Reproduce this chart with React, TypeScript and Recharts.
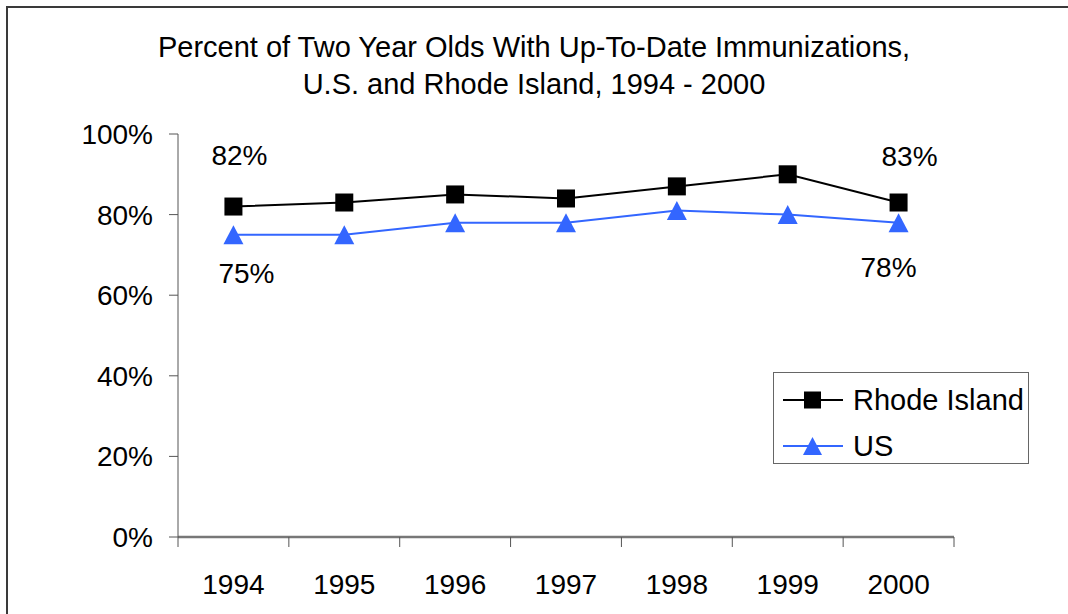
import React from "react";
import { Legend, Line, LineChart, XAxis, YAxis } from "recharts";

const years = [1994, 1995, 1996, 1997, 1998, 1999, 2000];
const rhodeIsland = [82, 83, 85, 84, 87, 90, 83];
const us = [75, 75, 78, 78, 81, 80, 78];
const yTicks = [0, 20, 40, 60, 80, 100];
const boundaryTicks = [1993.5, 1994.5, 1995.5, 1996.5, 1997.5, 1998.5, 1999.5, 2000.5];

const FONT = '"Liberation Sans", Arial, sans-serif';
const RI_COLOR = "#000000";
const US_COLOR = "#3366FF";

const data = years.map((year, i) => ({
    year,
    ri: rhodeIsland[i],
    us: us[i],
}));

const SquareDot = (props: any) => {
    const { cx, cy } = props;
    if (cx == null || cy == null) return null;
    const s = 18;
    return <rect x={cx - s / 2} y={cy - s / 2} width={s} height={s} fill={RI_COLOR} />;
};

const TriangleDot = (props: any) => {
    const { cx, cy } = props;
    if (cx == null || cy == null) return null;
    const w = 20;
    const h = 19;
    return (
        <path
            d={`M${cx},${cy - h / 2} L${cx + w / 2},${cy + h / 2} L${cx - w / 2},${cy + h / 2} Z`}
            fill={US_COLOR}
        />
    );
};

// only the first and last points carry a data label, as in the original
const makeLabel = (offsets: { first: [number, number]; last: [number, number] }) =>
    (props: any) => {
        const { x, y, value, index } = props;
        let off: [number, number] | null = null;
        if (index === 0) off = offsets.first;
        if (index === years.length - 1) off = offsets.last;
        if (!off) return null;
        return (
            <text
                key={`lbl-${index}`}
                x={x + off[0]}
                y={y + off[1]}
                textAnchor="middle"
                dominantBaseline="central"
                fontSize={28}
                fontFamily={FONT}
                fill="#000"
            >
                {`${value}%`}
            </text>
        );
    };

const riLabel = makeLabel({ first: [6, -51], last: [11, -46] });
const usLabel = makeLabel({ first: [13, 39], last: [-10, 45] });

// boundary tick marks between the categories (Excel style)
const BoundaryTick = (props: any) => {
    const { x, y } = props;
    return <line x1={x} x2={x} y1={y} y2={y + 10} stroke="#555" strokeWidth={1} />;
};

const renderLegend = () => (
    <div
        style={{
            border: "1.5px solid #666",
            background: "#fff",
            width: 256,
            height: 92,
            boxSizing: "border-box",
            fontFamily: FONT,
            fontSize: 29,
            paddingTop: 8,
        }}
    >
        {[
            { name: "Rhode Island", color: RI_COLOR, shape: "square" },
            { name: "US", color: US_COLOR, shape: "triangle" },
        ].map((item) => (
            <div
                key={item.name}
                style={{ display: "flex", alignItems: "center", height: 38, marginBottom: 8 }}
            >
                <svg width={78} height={24} style={{ marginLeft: 9, marginRight: 2 }}>
                    <line x1={0} y1={12} x2={60} y2={12} stroke={item.color} strokeWidth={2} />
                    {item.shape === "square" ? (
                        <rect x={21} y={3.5} width={17} height={17} fill={item.color} />
                    ) : (
                        <path d="M29.5,3 L39,21 L20,21 Z" fill={item.color} />
                    )}
                </svg>
                <span style={{ marginLeft: -10 }}>{item.name}</span>
            </div>
        ))}
    </div>
);

export default function App() {
    return (
        <div
            style={{
                position: "absolute",
                left: 0,
                top: 0,
                width: 1068,
                height: 614,
                background: "#fff",
                fontFamily: FONT,
                overflow: "hidden",
            }}
        >
            <div
                style={{
                    position: "absolute",
                    left: 6,
                    top: 6,
                    width: 1100,
                    height: 700,
                    borderLeft: "2px solid #3a3a3a",
                    borderTop: "2px solid #3a3a3a",
                }}
            />
            <div
                style={{
                    position: "absolute",
                    left: 0,
                    width: 1068,
                    top: 29,
                    textAlign: "center",
                    fontSize: 29,
                    lineHeight: "37px",
                    color: "#000",
                }}
            >
                Percent of Two Year Olds With Up-To-Date Immunizations,
                <br />
                U.S. and Rhode Island, 1994 - 2000
            </div>
            <div style={{ position: "absolute", left: 0, top: 0 }}>
                <LineChart
                    width={1068}
                    height={614}
                    data={data}
                    margin={{ top: 134, right: 114, bottom: 17, left: 78 }}
                >
                    <XAxis
                        xAxisId="bounds"
                        dataKey="year"
                        type="number"
                        domain={[1993.5, 2000.5]}
                        ticks={boundaryTicks}
                        allowDataOverflow
                        height={1}
                        tick={<BoundaryTick />}
                        tickSize={0}
                        tickMargin={0}
                        tickLine={false}
                        axisLine={{ stroke: "#777", strokeWidth: 2.5 }}
                        interval={0}
                    />
                    <XAxis
                        xAxisId="labels"
                        dataKey="year"
                        type="number"
                        domain={[1993.5, 2000.5]}
                        ticks={years}
                        allowDataOverflow
                        height={59}
                        axisLine={false}
                        tickLine={false}
                        tickSize={8}
                        tickMargin={28}
                        tick={{ fontSize: 28, fontFamily: FONT, fill: "#000" }}
                        interval={0}
                    />
                    <YAxis
                        domain={[0, 100]}
                        ticks={yTicks}
                        width={100}
                        interval={0}
                        tickFormatter={(v: number) => `${v}%`}
                        tick={{ fontSize: 28, fontFamily: FONT, fill: "#000" }}
                        tickSize={9}
                        tickMargin={16}
                        axisLine={{ stroke: "#555", strokeWidth: 1 }}
                        tickLine={{ stroke: "#555", strokeWidth: 1 }}
                    />
                    <Legend
                        layout="horizontal"
                        verticalAlign="middle"
                        align="center"
                        content={renderLegend}
                        wrapperStyle={{ position: "absolute", left: 773, top: 372, width: 256, height: 92 }}
                    />
                    <Line
                        xAxisId="bounds"
                        dataKey="ri"
                        stroke="none"
                        dot={false}
                        activeDot={false}
                        legendType="none"
                        isAnimationActive={false}
                    />
                    <Line
                        xAxisId="labels"
                        dataKey="ri"
                        name="Rhode Island"
                        stroke={RI_COLOR}
                        strokeWidth={2}
                        dot={<SquareDot />}
                        activeDot={false}
                        label={riLabel}
                        isAnimationActive={false}
                    />
                    <Line
                        xAxisId="labels"
                        dataKey="us"
                        name="US"
                        stroke={US_COLOR}
                        strokeWidth={2}
                        dot={<TriangleDot />}
                        activeDot={false}
                        label={usLabel}
                        isAnimationActive={false}
                    />
                </LineChart>
            </div>
        </div>
    );
}
